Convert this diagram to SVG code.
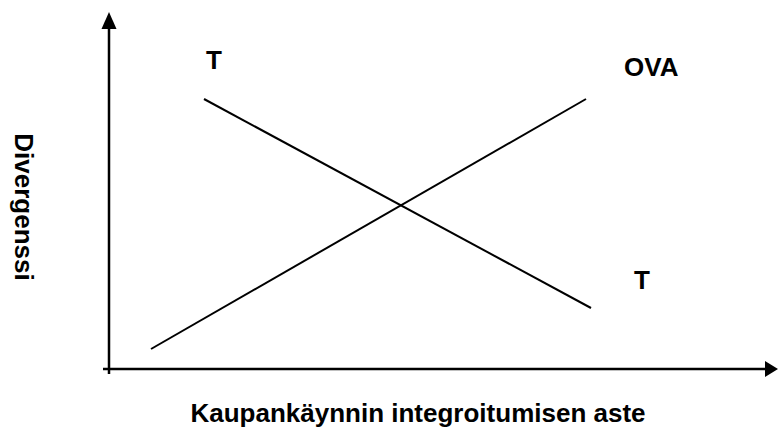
<svg xmlns="http://www.w3.org/2000/svg" width="778" height="430" viewBox="0 0 778 430">
<style>
.ax{stroke:#000;stroke-width:2.5;fill:none}
.ln{stroke:#000;stroke-width:2;fill:none}
.t{font-family:"Liberation Sans",Arial,sans-serif;font-weight:bold;font-size:26px;fill:#000}
</style>
<rect width="778" height="430" fill="#fff"/>
<g id="axes">
<line class="ax" x1="109" y1="374" x2="109" y2="26"/>
<polygon points="109,12 101.5,29 116.5,29" fill="#000"/>
<line class="ax" x1="103" y1="369" x2="766" y2="369"/>
<polygon points="778,369 765,361 765,377" fill="#000"/>
</g>
<g id="connectors">
<line id="ova-line" class="ln" x1="151" y1="349" x2="586" y2="99"/>
<line id="t-line" class="ln" x1="204" y1="99" x2="591" y2="308"/>
</g>
<g id="labels">
<text class="t" x="206" y="69">T</text>
<text class="t" x="624" y="76">OVA</text>
<text class="t" x="634" y="289">T</text>
<text class="t" x="418" y="422" text-anchor="middle">Kaupankäynnin integroitumisen aste</text>
<text class="t" transform="translate(15,207) rotate(90)" text-anchor="middle">Divergenssi</text>
</g>
</svg>
